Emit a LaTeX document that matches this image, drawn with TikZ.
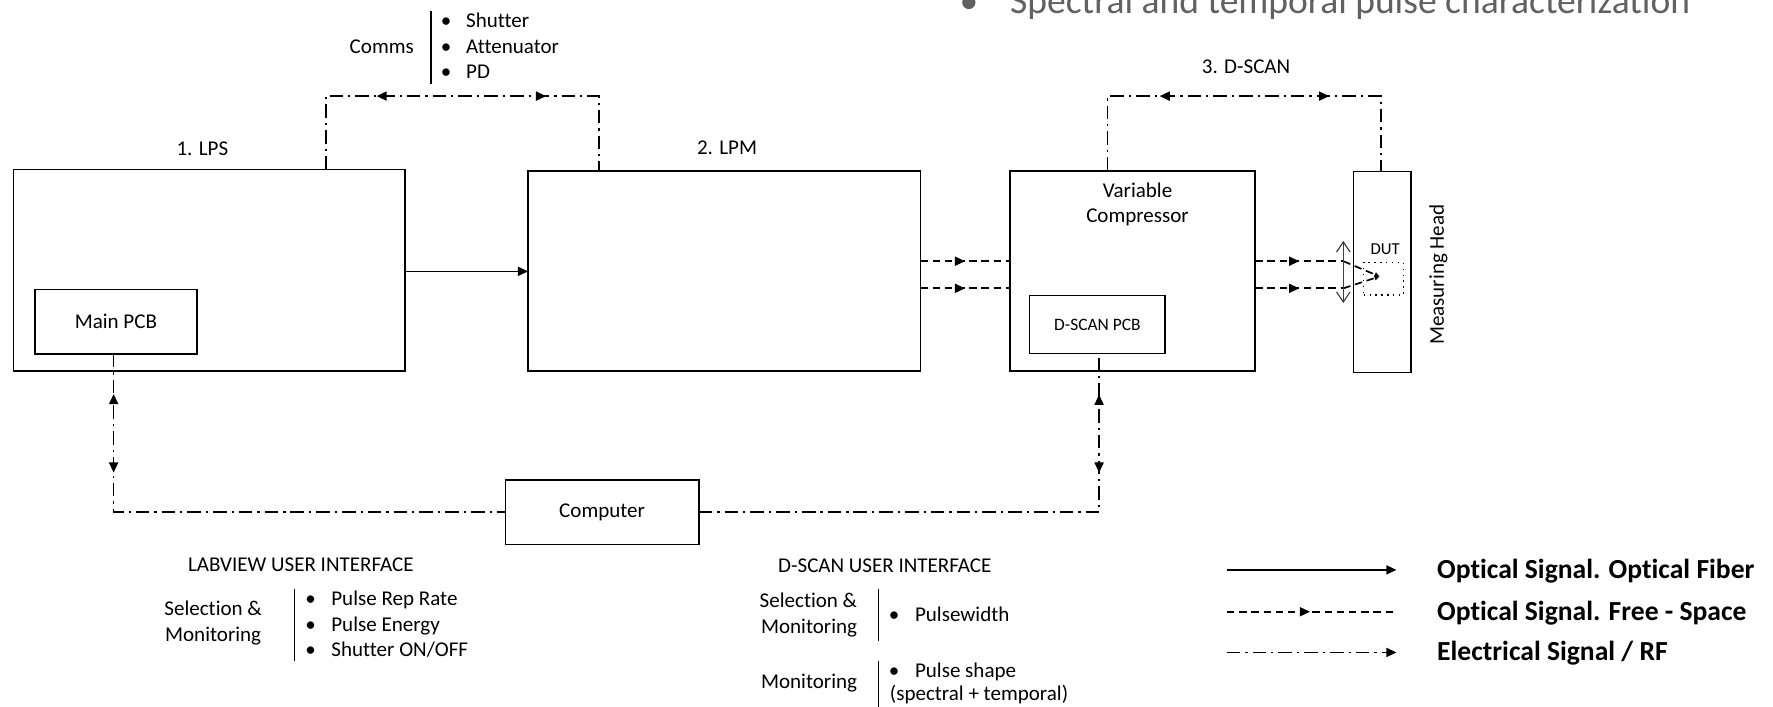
\documentclass[tikz,border=0pt]{standalone}
\usepackage{fontspec}
\setmainfont{Carlito}[Ligatures={NoCommon}]
\usetikzlibrary{arrows.meta,decorations.markings,calc}
\tikzset{
  x=0.5pt, y=-0.5pt,
  mainfont/.style={font=\fontsize{9.3}{11.3}\selectfont},
  box/.style={draw, line width=0.7pt, inner sep=0pt, outer sep=0pt, mainfont, align=center},
  txt/.style={inner sep=0pt, outer sep=0pt, mainfont},
  legtxt/.style={inner sep=0pt, outer sep=0pt, anchor=west, font=\fontsize{12.2}{14}\selectfont\bfseries},
  sepbar/.style={line width=0.7pt},
  solidline/.style={line width=0.75pt},
  fsline/.style={line width=0.75pt, dash pattern=on 3.3pt off 2.1pt},
  elecline/.style={line width=0.75pt, dash pattern=on 6pt off 2.2pt on 1pt off 2.2pt},
  mytip/.tip={Triangle[length=4.5pt,width=4pt]},
  fwd at/.style={postaction={decorate,decoration={markings,mark=at position #1 with {\arrow{mytip}}}}},
  bwd at/.style={postaction={decorate,decoration={markings,mark=at position #1 with {\arrowreversed{mytip}}}}},
}
\begin{document}
\begin{tikzpicture}
\fill[white] (0,0) rectangle (1568,625);
\useasboundingbox (0,0) rectangle (1568,625);

% heading (cut at the top)
\node[inner sep=0pt, anchor=base, text=black!62, font=\fontsize{16.6}{20}\selectfont] (hbul) at (857,12) {•};
\node[inner sep=0pt, anchor=base west, text=black!62, font=\fontsize{16.6}{20}\selectfont] (head) at (893,12) {Spectral and temporal pulse characterization};

% main boxes
\node[box, minimum width=173pt, minimum height=89pt] (lps) at (185,239) {};
\node[box, minimum width=71.5pt, minimum height=28.5pt] (mainpcb) at (102.5,284.5) {Main PCB};
\node[box, minimum width=173.5pt, minimum height=88.5pt] (lpm) at (640.5,239.5) {};
\node[box, minimum width=108.5pt, minimum height=88.5pt] (vc) at (1001.5,239.5) {};
\node[txt, align=center, font=\fontsize{9.3}{11.1}\selectfont] (vctext) at (1006,180.5) {Variable\\Compressor};
\node[box, minimum width=60pt, minimum height=25.5pt, font=\fontsize{7.7}{9}\selectfont] (dscanpcb) at (970.5,287) {D-SCAN PCB};
\node[box, minimum width=25.5pt, minimum height=89pt] (mh) at (1222.5,240.5) {};
\node[txt, rotate=90] (mhtext) at (1272,243) {Measuring Head};
\node[box, minimum width=85.5pt, minimum height=28.5pt] (computer) at (532.5,453) {Computer};

% titles
\node[txt] (lpslabel) at (179,132) {1. LPS};
\node[txt] (lpmlabel) at (643,131) {2. LPM};
\node[txt] (dscanlabel) at (1102,59) {3. D-SCAN};

% DUT
\node[draw, dotted, line width=0.6pt, inner sep=0pt, minimum width=17.5pt, minimum height=14.5pt] (dut) at (1223.5,246.5) {};
\node[txt, font=\fontsize{7.4}{9}\selectfont] (dutlabel) at (1225,220) {DUT};

% Comms
\node[txt, anchor=east] (comms) at (366,41) {Comms};
\coordinate (cbarT) at (381,10);
\coordinate (cbarB) at (381,74);
\draw[sepbar] (cbarT) -- (cbarB);
\node[txt, anchor=west] (commslist) at (390,42.7) {\begin{tabular}{@{}l@{\hspace{6.5pt}}l@{}}•&Shutter\\•&Attenuator\\•&PD\end{tabular}};

% top electrical connectors
\coordinate (topL) at (288,85);
\coordinate (topR) at (530,85);
\draw[elecline, bwd at=55pt, fwd at=130pt] (topL |- lps.north) -- (topL) -- (topR) -- (topR |- lpm.north);
\coordinate (dtopL) at (979.5,85);
\coordinate (dtopR) at (1221.5,85);
\draw[elecline, bwd at=56pt, fwd at=131pt] (dtopL |- vc.north) -- (dtopL) -- (dtopR) -- (dtopR |- mh.north);

% optical fiber
\draw[solidline, -{mytip}] (lps.east |- 0,240) -- (lpm.west |- 0,240);

% free-space beams
\coordinate (b1) at (1188,231);
\coordinate (b2) at (1188,255);
\draw[fsline, fwd at=0.5] (lpm.east |- b1) -- (vc.west |- b1);
\draw[fsline, fwd at=0.5] (lpm.east |- b2) -- (vc.west |- b2);
\draw[fsline, fwd at=0.5] (vc.east |- b1) -- (b1);
\draw[fsline, fwd at=0.5] (vc.east |- b2) -- (b2);
\coordinate (focus) at (1220,244.5);
\draw[fsline, -{Triangle[length=2.2pt,width=2pt]}] (b1) -- (focus);
\draw[fsline, -{Triangle[length=2.2pt,width=2pt]}] (b2) -- (focus);

% lens
\coordinate (lenstop) at (1188,213);
\coordinate (lensbot) at (1188,268);
\draw[line width=0.5pt, black!75, {Straight Barb[length=4.5pt,width=6pt]}-{Straight Barb[length=4.5pt,width=6pt]}] (lenstop) -- (lensbot);

% bottom electrical connectors
\coordinate (botL) at (100.5,453);
\coordinate (botR) at (972,453);
\draw[elecline, bwd at=17.7pt, fwd at=52.5pt] (botL |- mainpcb.south) -- (botL) -- (computer.west);
\draw[elecline, bwd at=194.5pt, fwd at=229pt] (computer.east) -- (botR) -- (botR |- dscanpcb.south);

% LABVIEW UI
\node[txt] (lvtitle) at (266,499.5) {LABVIEW USER INTERFACE};
\node[txt, align=center] (lvsel) at (188.5,551) {Selection \&\\Monitoring};
\coordinate (lvbarT) at (260.5,521);
\coordinate (lvbarB) at (260.5,584.5);
\draw[sepbar] (lvbarT) -- (lvbarB);
\node[txt, anchor=west] (lvlist) at (270,553.8) {\begin{tabular}{@{}l@{\hspace{6.9pt}}l@{}}•&Pulse Rep Rate\\•&Pulse Energy\\•&Shutter ON/OFF\end{tabular}};

% D-SCAN UI
\node[txt] (dstitle) at (782.5,500.5) {D-SCAN USER INTERFACE};
\node[txt, align=right, anchor=east] (dssel) at (758,544) {Selection \&\\Monitoring};
\coordinate (dsbarT) at (777,521);
\coordinate (dsbarB) at (777,567);
\draw[sepbar] (dsbarT) -- (dsbarB);
\node[txt, anchor=west] (dsb1) at (786,543.5) {•\hspace{7pt}Pulsewidth};
\node[txt, anchor=east] (dsmon) at (758,604.5) {Monitoring};
\coordinate (dsbar2T) at (777,585);
\coordinate (dsbar2B) at (777,625);
\draw[sepbar] (dsbar2T) -- (dsbar2B);
\node[txt, anchor=west] (dsb2) at (786,594.5) {•\hspace{7pt}Pulse shape};
\node[txt, anchor=west] (dsb3) at (787,614.5) {(spectral + temporal)};

% legend
\coordinate (l1a) at (1085,504);
\coordinate (l1b) at (1235,504);
\coordinate (l2a) at (1085,541);
\coordinate (l2b) at (1235,541);
\coordinate (l3a) at (1085,577);
\coordinate (l3b) at (1235,577);
\draw[solidline, -{mytip}] (l1a) -- (l1b);
\draw[fsline, fwd at=0.49] (l2a) -- (l2b);
\draw[elecline, -{mytip}] (l3a) -- (l3b);
\node[legtxt] (leg1) at (1271,505) {Optical Signal. Optical Fiber};
\node[legtxt] (leg2) at (1271,542) {Optical Signal. Free - Space};
\node[legtxt] (leg3) at (1271,578) {Electrical Signal / RF};
\end{tikzpicture}
\end{document}
